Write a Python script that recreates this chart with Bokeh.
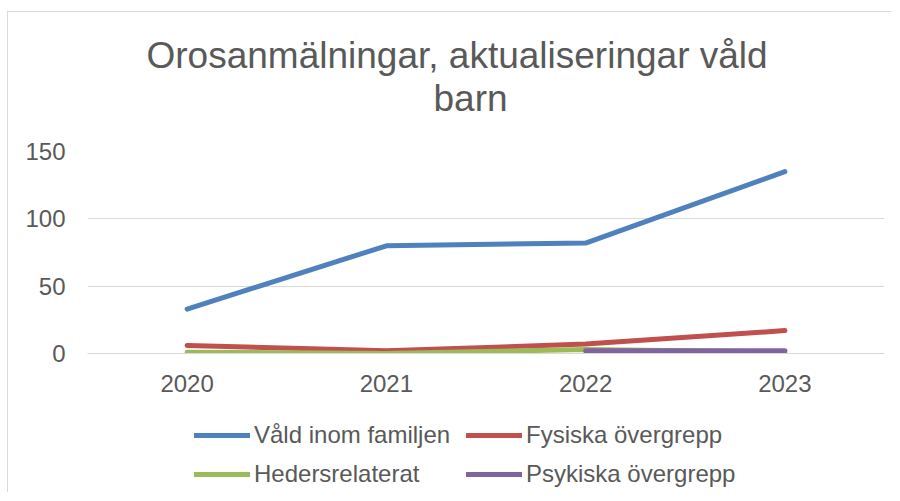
from bokeh.plotting import figure
from bokeh.layouts import column
from bokeh.models import Title, Legend, LegendItem, FixedTicker
from bokeh.embed import file_html
from bokeh.resources import INLINE

years = ["2020", "2021", "2022", "2023"]
vald_inom_familjen = [33, 80, 82, 135]
fysiska_overgrepp = [6, 2, 7, 17]
hedersrelaterat = [1, 0, 3, 1]
psykiska_years = ["2022", "2023"]
psykiska_overgrepp = [2, 2]

title_line1 = "Orosanmälningar, aktualiseringar våld"
title_line2 = "barn"
y_ticks = [0, 50, 100, 150]
series_labels = ["Våld inom familjen", "Fysiska övergrepp", "Hedersrelaterat", "Psykiska övergrepp"]
series_colors = ["#4f81bd", "#c0504d", "#9bbb59", "#8064a2"]

FONT = "Liberation Sans"
TXT = "#595959"
GRID = "#d9d9d9"

p = figure(x_range=years, y_range=(0, 150), width=884, height=388,
           output_backend="svg", toolbar_location=None,
           min_border_left=79, min_border_right=8, min_border_top=139,
           min_border_bottom=47)
p.styles = {"border-left": "1px solid #d9d9d9", "border-top": "1px solid #d9d9d9",
            "margin-top": "11px", "margin-left": "7px"}
p.outline_line_color = None
p.x_range.range_padding = 0

spacer = Title(text=" ", text_font_size="1px", standoff=30)
t2 = Title(text=title_line2, align="left", offset=346, text_font=FONT, text_font_size="37px",
           text_color=TXT, text_font_style="normal", standoff=0)
t1 = Title(text=title_line1, align="left", offset=59, text_font=FONT, text_font_size="37px",
           text_color=TXT, text_font_style="normal", standoff=0)
p.add_layout(spacer, "above")
p.add_layout(t2, "above")
p.add_layout(t1, "above")

p.yaxis.ticker = FixedTicker(ticks=y_ticks)
p.yaxis.axis_line_color = None
p.yaxis.major_tick_line_color = None
p.yaxis.minor_tick_line_color = None
p.yaxis.major_label_standoff = 16
p.yaxis.major_label_text_font = FONT
p.yaxis.major_label_text_font_size = "24px"
p.yaxis.major_label_text_color = TXT

p.xaxis.axis_line_color = GRID
p.xaxis.major_tick_line_color = None
p.xaxis.minor_tick_line_color = None
p.xaxis.major_label_standoff = 15
p.xaxis.major_label_text_font = FONT
p.xaxis.major_label_text_font_size = "24px"
p.xaxis.major_label_text_color = TXT

p.xgrid.grid_line_color = None
p.ygrid.grid_line_color = GRID
p.ygrid.grid_line_width = 1

lw = 5
series = [(years, vald_inom_familjen), (years, fysiska_overgrepp),
          (years, hedersrelaterat), (psykiska_years, psykiska_overgrepp)]
for (xs, ys), c in zip(series, series_colors):
    p.line(xs, ys, line_color=c, line_width=lw, line_cap="round", line_join="round")

# legend in a second, axis-free figure below the chart
p2 = figure(width=884, height=93, output_backend="svg", toolbar_location=None,
            x_range=(0, 1), y_range=(0, 1),
            x_axis_location=None, y_axis_location=None,
            min_border_left=0, min_border_right=0, min_border_top=0, min_border_bottom=0)
p2.styles = {"border-left": "1px solid #d9d9d9", "margin-left": "7px"}
p2.outline_line_color = None
p2.grid.grid_line_color = None
items = []
for lab, c in zip(series_labels, series_colors):
    # off-range stub renderer: only its legend swatch is visible
    r = p2.line([-10, -9], [-10, -9], line_color=c, line_width=lw, line_cap="round")
    items.append(LegendItem(label=lab, renderers=[r]))
legend = Legend(items=items, orientation="horizontal", ncols=2, location=(107, 4))
legend.label_text_font = FONT
legend.label_text_font_size = "24px"
legend.label_text_color = TXT
legend.glyph_width = 56
legend.glyph_height = 22
legend.label_height = 22
legend.label_width = 201
legend.label_standoff = 4
legend.spacing = 11
legend.padding = 0
legend.margin = 0
legend.border_line_color = None
legend.background_fill_alpha = 0
p2.add_layout(legend, "center")

layout = column(p, p2, spacing=0)
open("out.html", "w").write(file_html(layout, INLINE))
